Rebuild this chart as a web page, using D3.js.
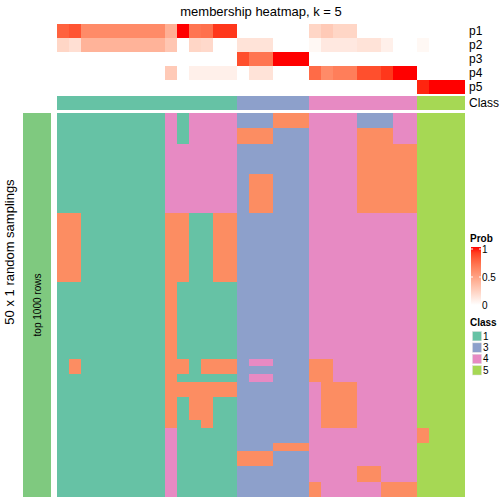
<!DOCTYPE html>
<html><head><meta charset="utf-8">
<script src="https://cdn.jsdelivr.net/npm/d3@7/dist/d3.min.js"></script>
<style>body{margin:0;background:#fff}svg{display:block}text{font-family:"Liberation Sans",Arial,Helvetica,sans-serif}</style>
</head><body>
<script>
// ---- data ----
const probRows = ["p1","p2","p3","p4","p5"];
const p1 = [0.78,0.83,0.6,0.6,0.6,0.6,0.6,0.6,0.6,0.42,1,0.7,0.72,0.92,0.92,0,0,0,0,0,0,0.22,0.28,0.22,0.22,0,0,0,0,0,0,0,0,0];
const p2 = [0.22,0.17,0.4,0.4,0.4,0.4,0.4,0.4,0.4,0.3,0,0.22,0.2,0,0,0.15,0.15,0.15,0,0,0,0.04,0.12,0.12,0.12,0.15,0.15,0.08,0,0,0.04,0,0,0];
const p3 = [0,0,0,0,0,0,0,0,0,0,0,0,0,0,0,0.85,0.7,0.7,1,1,1,0,0,0,0,0,0,0,0,0,0,0,0,0];
const p4 = [0,0,0,0,0,0,0,0,0,0.28,0,0.08,0.08,0.08,0.08,0,0.15,0.15,0,0,0,0.74,0.6,0.66,0.66,0.85,0.85,0.92,1,1,0,0,0,0];
const p5 = [0,0,0,0,0,0,0,0,0,0,0,0,0,0,0,0,0,0,0,0,0,0,0,0,0,0,0,0,0,0,0.96,1,1,1];
const classRow = [1,1,1,1,1,1,1,1,1,1,1,1,1,1,1,3,3,3,3,3,3,4,4,4,4,4,4,4,4,4,5,5,5,5];
const samplings = [
"1111111114144443332224444333445555",
"1111111114144443332224444333445555",
"1111111114144442223334444222445555",
"1111111114144442223334444222445555",
"1111111114444443333334444222225555",
"1111111114444443333334444222225555",
"1111111114444443333334444222225555",
"1111111114444443333334444222225555",
"1111111114444443223334444222225555",
"1111111114444443223334444222225555",
"1111111114444443223334444222225555",
"1111111114444443223334444222225555",
"1111111114444443223334444222225555",
"2211111112211223333334444444445555",
"2211111112211223333334444444445555",
"2211111112211223333334444444445555",
"2211111112211223333334444444445555",
"2211111112211223333334444444445555",
"2211111112211223333334444444445555",
"2211111112211223333334444444445555",
"2211111112211223333334444444445555",
"2211111112211223333334444444445555",
"1111111112111113333334444444445555",
"1111111112111113333334444444445555",
"1111111112111113333334444444445555",
"1111111112111113333334444444445555",
"1111111112111113333334444444445555",
"1111111112111113333334444444445555",
"1111111112111113333334444444445555",
"1111111112111113333334444444445555",
"1111111112111113333334444444445555",
"1111111112111113333334444444445555",
"1211111112212223443332244444445555",
"1211111112212223333332244444445555",
"1111111112111113443332244444445555",
"1111111112222223333334222444445555",
"1111111112222223333334222444445555",
"1111111112122113333334222444445555",
"1111111112122113333334222444445555",
"1111111112122113333334222444445555",
"1111111112112113333334222444445555",
"1111111114111113333334444444442555",
"1111111114111113333334444444442555",
"1111111114111113332224444444445555",
"1111111114111112223334444444445555",
"1111111114111112223334444444445555",
"1111111114111113333334444224445555",
"1111111114111113333334444224445555",
"1111111114111113333332444442225555",
"1111111114111113333332444442225555"
];
const legendClasses = [1,3,4,5];
const probTicks = [0,0.5,1];

// ---- chart ----
const W=504,H=504;
const svg=d3.select("body").append("svg").attr("width",W).attr("height",H);
const classColor=d3.scaleOrdinal().domain([1,2,3,4,5]).range(["#66C2A5","#FC8D62","#8DA0CB","#E78AC3","#A6D854"]);
const probColor=d3.scaleLinear().domain([0,1]).range(["#FFFFFF","#FF0000"]).interpolate(d3.interpolateLab);

const nCol=classRow.length;
const x=d3.scaleBand().domain(d3.range(nCol)).range([57,465]);
const yTop=d3.scaleBand().domain(probRows).range([24,94]);
const yClass=d3.scaleBand().domain(["Class"]).range([96,110]);
const yMain=d3.scaleBand().domain(d3.range(samplings.length)).range([113,497]);

const probs=[p1,p2,p3,p4,p5];
const gTop=svg.append("g").attr("shape-rendering","crispEdges");
probRows.forEach((r,i)=>{
  gTop.selectAll(null).data(probs[i]).join("rect")
    .attr("x",(d,j)=>x(j)).attr("y",yTop(r)).attr("width",x.bandwidth()).attr("height",yTop.bandwidth())
    .attr("fill",d=>probColor(d));
});
svg.append("g").attr("shape-rendering","crispEdges").selectAll("rect").data(classRow).join("rect")
  .attr("x",(d,j)=>x(j)).attr("y",yClass("Class")).attr("width",x.bandwidth()).attr("height",yClass.bandwidth())
  .attr("fill",d=>classColor(d));

const cells=[];
samplings.forEach((s,r)=>{for(let c=0;c<s.length;c++)cells.push({r,c,v:+s[c]});});
svg.append("g").attr("shape-rendering","crispEdges").selectAll("rect").data(cells).join("rect")
  .attr("x",d=>x(d.c)).attr("y",d=>yMain(d.r)).attr("width",x.bandwidth()+0.3).attr("height",yMain.bandwidth()+0.3)
  .attr("fill",d=>classColor(d.v));

// labels
const labs=probRows.map(r=>({t:r,y:yTop(r)+yTop.bandwidth()/2})).concat([{t:"Class",y:yClass("Class")+yClass.bandwidth()/2}]);
svg.selectAll("text.rl").data(labs).join("text").attr("class","rl")
  .attr("x",469).attr("y",d=>d.y).attr("dy","0.35em").attr("font-size",12).text(d=>d.t);

svg.append("text").attr("x",261).attr("y",16).attr("text-anchor","middle").attr("font-size",13).text("membership heatmap, k = 5");

// left annotation
svg.append("rect").attr("x",23).attr("y",113).attr("width",28).attr("height",384).attr("fill","#7FC97F");
svg.append("text").attr("transform","translate(41,305) rotate(-90)").attr("text-anchor","middle").attr("font-size",10).text("top 1000 rows");
svg.append("text").attr("transform","translate(14,252) rotate(-90)").attr("text-anchor","middle").attr("font-size",13).text("50 x 1 random samplings");

// legend Prob
svg.append("text").attr("x",470).attr("y",242).attr("font-size",10).attr("font-weight","bold").text("Prob");
const ly=d3.scaleLinear().domain([0,1]).range([305,249]);
const defs=svg.append("defs");
const grad=defs.append("linearGradient").attr("id","pg").attr("x1",0).attr("y1",1).attr("x2",0).attr("y2",0);
d3.range(0,1.001,0.1).forEach(t=>grad.append("stop").attr("offset",t).attr("stop-color",probColor(t)));
svg.append("rect").attr("x",471).attr("y",247).attr("width",10).attr("height",58).attr("fill","url(#pg)");
probTicks.forEach(t=>{
  svg.append("line").attr("x1",471).attr("x2",473).attr("y1",ly(t)).attr("y2",ly(t)).attr("stroke","#fff");
  svg.append("line").attr("x1",479).attr("x2",481).attr("y1",ly(t)).attr("y2",ly(t)).attr("stroke","#fff");
  svg.append("text").attr("x",482).attr("y",ly(t)).attr("dy","0.38em").attr("font-size",10).text(t);
});
// legend Class
svg.append("text").attr("x",470).attr("y",326).attr("font-size",10).attr("font-weight","bold").text("Class");
const lc=d3.scaleBand().domain(legendClasses).range([331.5,377]);
svg.selectAll("rect.lg").data(legendClasses).join("rect").attr("class","lg")
  .attr("x",472.5).attr("y",d=>lc(d)).attr("width",9).attr("height",lc.bandwidth()-2)
  .attr("fill",d=>classColor(d)).attr("stroke","#ddd").attr("stroke-width",0.5);
svg.selectAll("text.lg").data(legendClasses).join("text").attr("class","lg")
  .attr("x",483).attr("y",d=>lc(d)+lc.bandwidth()/2-1).attr("dy","0.35em").attr("font-size",10).text(d=>d);
</script>
</body></html>
